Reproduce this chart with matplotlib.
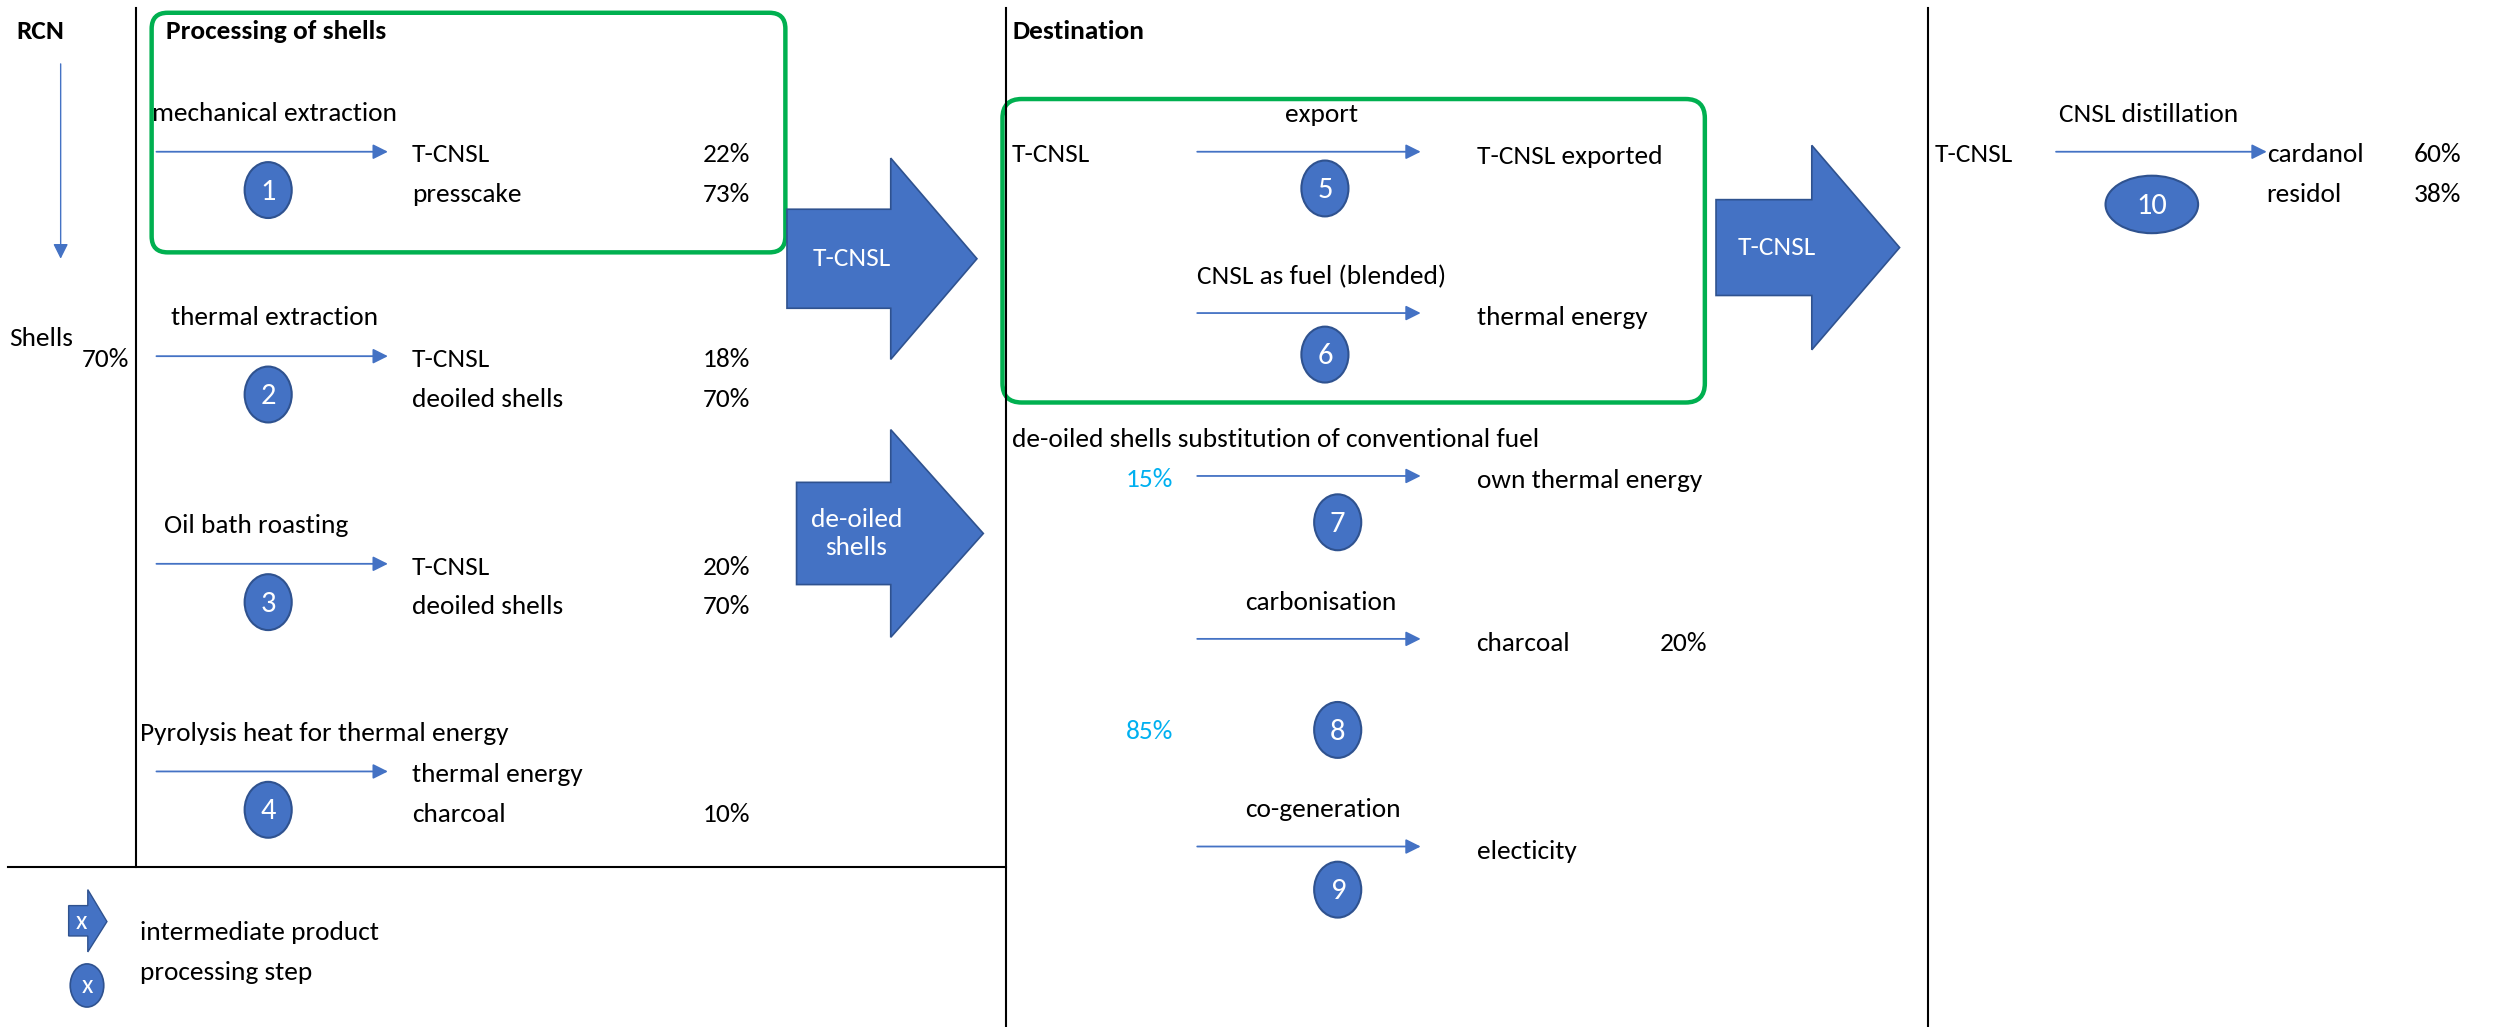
import matplotlib.pyplot as plt
from matplotlib.patches import Ellipse, Polygon, FancyBboxPatch

# ---- diagram content ----
left_steps = ["mechanical extraction", "thermal extraction", "Oil bath roasting",
              "Pyrolysis heat for thermal energy"]
left_outputs = [["T-CNSL", "presscake"], ["T-CNSL", "deoiled shells"],
                ["T-CNSL", "deoiled shells"], ["thermal energy", "charcoal"]]
left_shares = [["22%", "73%"], ["18%", "70%"], ["20%", "70%"], ["", "10%"]]

dest_steps = ["export", "CNSL as fuel (blended)", "", "carbonisation", "co-generation"]
dest_outputs = ["T-CNSL exported", "thermal energy", "own thermal energy", "charcoal", "electicity"]
dest_shares = ["", "", "", "20%", ""]
shell_split = ["15%", "85%"]

dist_outputs = ["cardanol", "residol"]
dist_shares = ["60%", "38%"]

BLUE = "#4472C4"
EDGE = "#2F528F"
GREEN = "#00B050"
CYAN = "#00B0F0"
FONT = ["Carlito", "Lato", "DejaVu Sans"]
FS = 19.7

fig = plt.figure(figsize=(25.03, 10.27), dpi=100)
ax = fig.add_axes([0, 0, 1, 1])
ax.set_xlim(0, 1568)
ax.set_ylim(643, 0)
ax.axis("off")


def txt(x, y, s, **kw):
    kw.setdefault("fontsize", FS)
    kw.setdefault("va", "center")
    ax.text(x, y, s, family=FONT, **kw)


def thin_arrow(x0, x1, y):
    ax.annotate("", xy=(x1, y), xytext=(x0, y),
                arrowprops=dict(arrowstyle="-|>,head_length=0.9,head_width=0.45",
                                color=BLUE, lw=1.3, shrinkA=0, shrinkB=0))


def step(x, y, n, w=29.5, h=35):
    ax.add_patch(Ellipse((x, y), w, h, facecolor=BLUE, edgecolor=EDGE, lw=1.5, zorder=3))
    txt(x, y + 1, str(n), color="white", ha="center", zorder=4, fontsize=22)


def block_arrow(x0, xb, x1, yc, bh, hh, label):
    pts = [(x0, yc - bh / 2), (xb, yc - bh / 2), (xb, yc - hh / 2), (x1, yc),
           (xb, yc + hh / 2), (xb, yc + bh / 2), (x0, yc + bh / 2)]
    ax.add_patch(Polygon(pts, closed=True, facecolor=BLUE, edgecolor=EDGE, lw=1.2, zorder=2))
    txt((x0 + xb) / 2 + 8, yc, label, color="white", ha="center", zorder=3,
        linespacing=1.3)


# frame lines
ax.plot([85, 85], [5, 543], color="black", lw=1.5)
ax.plot([5, 630], [543, 543], color="black", lw=1.5)
ax.plot([630, 630], [5, 643], color="black", lw=1.5)
ax.plot([1208, 1208], [5, 643], color="black", lw=1.5)

# green boxes
ax.add_patch(FancyBboxPatch((95, 8), 397, 150, boxstyle="round,pad=0,rounding_size=10",
                            fill=False, edgecolor=GREEN, lw=3.2))
ax.add_patch(FancyBboxPatch((628, 62), 440, 190, boxstyle="round,pad=0,rounding_size=12",
                            fill=False, edgecolor=GREEN, lw=3.2))

# RCN column
txt(10, 20, "RCN", fontweight="bold")
ax.annotate("", xy=(38, 162), xytext=(38, 40),
            arrowprops=dict(arrowstyle="-|>,head_length=0.9,head_width=0.45",
                            color=BLUE, lw=1.0, shrinkA=0, shrinkB=0))
txt(6, 212, "Shells")
txt(81, 225, "70%", ha="right")

# processing of shells
txt(104, 20, "Processing of shells", fontweight="bold")
row_y = [95, 223, 353, 483]
label_x = [95, 107, 103, 88]
for i, y in enumerate(row_y):
    txt(label_x[i], y - 24, left_steps[i])
    thin_arrow(98, 243, y)
    step(168, y + 24, i + 1)
    txt(258, y + 2, left_outputs[i][0])
    txt(258, y + 27, left_outputs[i][1])
    txt(470, y + 2, left_shares[i][0], ha="right")
    txt(470, y + 27, left_shares[i][1], ha="right")

# intermediate products
block_arrow(493, 558, 612, 162, 62, 126, "T-CNSL")
block_arrow(499, 558, 616, 334, 64, 130, "de-oiled\nshells")
block_arrow(1075, 1135, 1190, 155, 60, 128, "T-CNSL")

# destination
txt(634, 20, "Destination", fontweight="bold")
txt(634, 97, "T-CNSL")
txt(634, 275, "de-oiled shells substitution of conventional fuel")
dest_y = [95, 196, 298, 400, 530]
dest_lab_x = [828, 750, 0, 780, 780]
dest_circ = [(830, 118), (830, 222), (838, 327), (838, 457), (838, 557)]
for i, y in enumerate(dest_y):
    if dest_steps[i]:
        ha = "center" if i == 0 else "left"
        txt(dest_lab_x[i], y - 23, dest_steps[i], ha=ha)
    thin_arrow(750, 890, y)
    txt(925, y + 3, dest_outputs[i])
    if dest_shares[i]:
        txt(1040, y + 3, dest_shares[i])
    step(dest_circ[i][0], dest_circ[i][1], i + 5)
txt(735, 300, shell_split[0], ha="right", color=CYAN)
txt(735, 458, shell_split[1], ha="right", color=CYAN)

# distillation
txt(1212, 97, "T-CNSL")
txt(1290, 72, "CNSL distillation")
thin_arrow(1288, 1420, 95)
step(1348, 128, 10, w=58, h=36)
txt(1420, 97, dist_outputs[0])
txt(1420, 122, dist_outputs[1])
txt(1512, 97, dist_shares[0])
txt(1512, 122, dist_shares[1])

# legend
ax.add_patch(Polygon([(43, 567), (55, 567), (55, 557), (67, 577), (55, 596), (55, 586), (43, 586)],
                     closed=True, facecolor=BLUE, edgecolor=EDGE, lw=1))
txt(51, 577, "x", color="white", ha="center", fontsize=19)
txt(88, 584, "intermediate product")
ax.add_patch(Ellipse((54.5, 617), 21, 27, facecolor=BLUE, edgecolor=EDGE, lw=1.2))
txt(54.5, 617, "x", color="white", ha="center", fontsize=19)
txt(88, 609, "processing step")

fig.savefig("out.png", dpi=100)
